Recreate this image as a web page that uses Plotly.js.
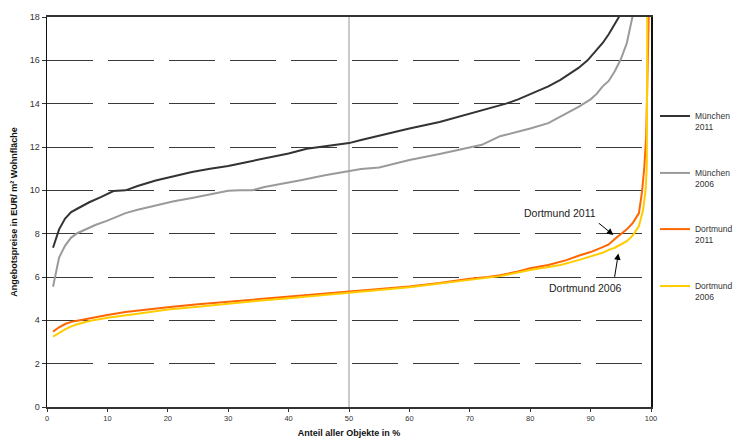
<!DOCTYPE html>
<html>
<head>
<meta charset="utf-8">
<script src="https://cdn.plot.ly/plotly-3.0.1.min.js"></script>
<style>
  html, body { margin: 0; padding: 0; background: #fff; }
  #chart { width: 734px; height: 439px; }
</style>
</head>
<body>
<div id="chart"></div>
<script>
// Data
const seriesNames = ["München<br>2011", "München<br>2006", "Dortmund<br>2011", "Dortmund<br>2006"];

const muc2011X = [1, 2, 3, 4, 5, 7, 9, 11, 13, 15, 18, 21, 24, 27, 30, 33, 36, 40, 43, 46, 50, 52, 55, 60, 65, 70, 73, 76, 78, 80, 83, 85, 87, 88, 89.5, 91, 92, 93, 94, 95];
const muc2011Y = [7.35, 8.2, 8.7, 9.0, 9.15, 9.45, 9.7, 9.97, 10.0, 10.2, 10.45, 10.65, 10.85, 11.0, 11.12, 11.3, 11.47, 11.7, 11.92, 12.03, 12.18, 12.32, 12.52, 12.85, 13.15, 13.55, 13.78, 14.0, 14.2, 14.45, 14.8, 15.1, 15.45, 15.65, 16.0, 16.45, 16.8, 17.2, 17.65, 18.15];

const muc2006X = [1, 2, 3, 4, 5, 6, 7, 8, 10, 13, 15, 18, 21, 24, 27, 30, 32, 34, 36, 38, 42, 46, 50, 52, 55, 60, 65, 70, 72, 75, 78, 80, 83, 86, 88, 90, 91, 92, 93, 94, 95, 96, 97];
const muc2006Y = [5.55, 6.9, 7.45, 7.82, 8.02, 8.15, 8.28, 8.4, 8.6, 8.95, 9.1, 9.3, 9.5, 9.65, 9.82, 9.98, 10.0, 10.0, 10.15, 10.25, 10.47, 10.7, 10.88, 10.98, 11.05, 11.4, 11.68, 11.97, 12.1, 12.5, 12.7, 12.85, 13.1, 13.55, 13.85, 14.2, 14.45, 14.8, 15.05, 15.5, 16.05, 16.8, 18.1];

const dor2011X = [1, 2, 3, 4, 5, 7, 10, 13, 15, 20, 25, 30, 35, 40, 45, 50, 55, 60, 65, 70, 73, 75, 78, 80, 83, 86, 88, 90, 92, 93, 94, 95, 96, 97, 98, 98.5, 98.9, 99.2, 99.7];
const dor2011Y = [3.48, 3.68, 3.83, 3.93, 3.98, 4.09, 4.25, 4.38, 4.45, 4.6, 4.74, 4.86, 4.97, 5.08, 5.2, 5.33, 5.45, 5.56, 5.72, 5.92, 6.0, 6.08, 6.25, 6.4, 6.55, 6.78, 6.98, 7.15, 7.38, 7.5, 7.75, 7.98, 8.2, 8.5, 8.95, 9.9, 11.1, 12.5, 19];

const dor2006X = [1, 2, 3, 4, 5, 7, 10, 15, 20, 25, 30, 35, 40, 45, 50, 55, 60, 65, 70, 75, 80, 85, 88, 90, 92, 93, 94, 95, 96, 97, 98, 98.7, 99.1, 99.3, 99.4];
const dor2006Y = [3.25, 3.43, 3.58, 3.72, 3.82, 3.97, 4.12, 4.3, 4.5, 4.63, 4.78, 4.9, 5.02, 5.14, 5.25, 5.4, 5.53, 5.7, 5.88, 6.04, 6.32, 6.55, 6.78, 6.95, 7.12, 7.25, 7.35, 7.5, 7.65, 7.92, 8.35, 9.1, 10.0, 11.1, 19];

const seriesX = [muc2011X, muc2006X, dor2011X, dor2006X];
const seriesY = [muc2011Y, muc2006Y, dor2011Y, dor2006Y];
const seriesColors = ["#333333", "#9a9a9a", "#ff6600", "#ffcc00"];
const legendIds = ["legend", "legend2", "legend3", "legend4"];

const xTicks = [0, 10, 20, 30, 40, 50, 60, 70, 80, 90, 100];
const yTicks = [0, 2, 4, 6, 8, 10, 12, 14, 16, 18];

const traces = seriesNames.map((name, i) => ({
  type: "scatter",
  mode: "lines",
  name: name,
  x: seriesX[i],
  y: seriesY[i],
  line: { color: seriesColors[i], width: 2 },
  legend: legendIds[i],
  hoverinfo: "skip"
}));

// legend positions (paper coords, top of each legend box)
const legendTops = [0.777, 0.631, 0.487, 0.341];
const legendFont = { family: "Liberation Sans, Arial, sans-serif", size: 8.5, color: "#333" };
function mkLegend(y) {
  return {
    x: 1.0066, xanchor: "left",
    y: y, yanchor: "top",
    font: legendFont,
    bgcolor: "rgba(0,0,0,0)",
    borderwidth: 0,
    valign: "top",
    itemclick: false
  };
}

const layout = {
  width: 734,
  height: 439,
  margin: { l: 47, r: 83, t: 17, b: 32, autoexpand: false },
  paper_bgcolor: "#ffffff",
  plot_bgcolor: "#ffffff",
  font: { family: "Liberation Sans, Arial, sans-serif", color: "#222" },
  showlegend: true,
  legend: mkLegend(legendTops[0]),
  legend2: mkLegend(legendTops[1]),
  legend3: mkLegend(legendTops[2]),
  legend4: mkLegend(legendTops[3]),
  xaxis: {
    range: [0, 100],
    tickvals: xTicks,
    ticktext: xTicks.map(String),
    ticks: "outside",
    ticklen: 3,
    tickcolor: "#333",
    tickfont: { size: 7.5, color: "#333" },
    showgrid: false,
    zeroline: false,
    showline: true,
    linecolor: "#333",
    linewidth: 2,
    mirror: true,
    fixedrange: true,
    automargin: false,
    title: {
      text: "<b>Anteil aller Objekte in %</b>",
      font: { size: 9, color: "#111" },
      standoff: 8
    }
  },
  yaxis: {
    range: [0, 18],
    tickvals: yTicks,
    ticktext: yTicks.map(String),
    ticks: "outside",
    ticklen: 4,
    tickcolor: "#333",
    tickfont: { size: 9, color: "#333" },
    showgrid: true,
    gridcolor: "#3a3a3a",
    gridwidth: 1,
    griddash: "46px,15px",
    zeroline: false,
    showline: true,
    linecolor: "#111",
    linewidth: 1.5,
    mirror: true,
    fixedrange: true,
    automargin: false,
    title: {
      text: "<b>Angebotspreise in EUR/ m² Wohnfläche</b>",
      font: { size: 9, color: "#111" },
      standoff: 10
    }
  },
  shapes: [
    { type: "line", xref: "x", yref: "y", x0: 50, x1: 50, y0: 0, y1: 18,
      line: { color: "#b8b8b8", width: 1.5 }, layer: "below" }
  ],
  annotations: [
    { xref: "x", yref: "y", x: 84.9, y: 8.95, text: "Dortmund 2011", showarrow: false,
      font: { size: 10.5, color: "#222" } },
    { xref: "x", yref: "y", x: 89.2, y: 5.49, text: "Dortmund 2006", showarrow: false,
      font: { size: 10.5, color: "#222" } },
    { xref: "x", yref: "y", x: 93.76, y: 7.94, text: "", showarrow: true,
      ax: -16, ay: -13, arrowhead: 2, arrowsize: 1.3, arrowwidth: 1, arrowcolor: "#000" },
    { xref: "x", yref: "y", x: 94.6, y: 7.09, text: "", showarrow: true,
      ax: -4, ay: 25, arrowhead: 2, arrowsize: 1.3, arrowwidth: 1, arrowcolor: "#000" }
  ]
};

Plotly.newPlot("chart", traces, layout, { staticPlot: true, displayModeBar: false });
</script>
</body>
</html>
